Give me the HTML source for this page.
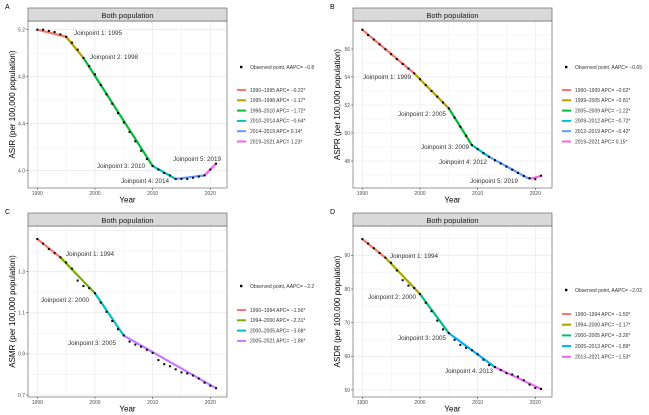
<!DOCTYPE html>
<html><head><meta charset="utf-8"><style>
html,body{margin:0;padding:0;background:#fff;}
svg{display:block;font-family:"Liberation Sans",sans-serif;}
</style></head><body>
<svg id="fig" width="649" height="415" viewBox="0 0 649 415"></svg>
<script>
// ---- Data ----
const years = [1990,1991,1992,1993,1994,1995,1996,1997,1998,1999,2000,2001,2002,2003,2004,2005,2006,2007,2008,2009,2010,2011,2012,2013,2014,2015,2016,2017,2018,2019,2020,2021];
const asirObs = [5.2,5.2,5.19,5.18,5.16,5.14,5.09,5.03,4.96,4.89,4.82,4.73,4.65,4.57,4.49,4.41,4.33,4.25,4.17,4.10,4.04,4.01,3.98,3.96,3.93,3.93,3.93,3.94,3.95,3.96,4.01,4.06];
const asirJp = [1990,1995,1998,2010,2014,2019,2021];
const asirFit = [5.2,5.14,4.96,4.04,3.93,3.96,4.06];
const asirLegend = ["1990\u20131995 APC= \u22120.22*","1995\u20131998 APC= \u22121.17*","1998\u20132010 APC= \u22121.72*","2010\u20132014 APC= \u22120.64*","2014\u20132019 APC= 0.14*","2019\u20132021 APC= 1.23*"];
const asprObs = [57.38,57.0,56.68,56.33,55.98,55.63,55.28,54.93,54.6,54.26,53.84,53.42,53.0,52.6,52.18,51.76,51.1,50.45,49.8,49.14,48.85,48.56,48.3,48.05,47.82,47.6,47.38,47.15,46.93,46.78,46.7,46.95];
const asprJp = [1990,1999,2005,2009,2012,2019,2021];
const asprFit = [57.38,54.26,51.76,49.14,48.3,46.71,46.93];
const asprLegend = ["1990\u20131999 APC= \u22120.62*","1999\u20132005 APC= \u22120.81*","2005\u20132009 APC= \u22121.22*","2009\u20132012 APC= \u22120.72*","2012\u20132019 APC= \u22120.42*","2019\u20132021 APC= 0.15*"];
const asmrObs = [1.459,1.437,1.41,1.39,1.37,1.345,1.315,1.257,1.23,1.22,1.195,1.15,1.105,1.06,1.02,0.99,0.96,0.945,0.935,0.92,0.905,0.87,0.85,0.84,0.825,0.81,0.805,0.795,0.78,0.76,0.745,0.733];
const asmrJp = [1990,1994,2000,2005,2021];
const asmrFit = [1.459,1.37,1.195,0.989,0.733];
const asmrLegend = ["1990\u20131994 APC= \u22121.56*","1994\u20132000 APC= \u22122.31*","2000\u20132005 APC= \u22123.68*","2005\u20132021 APC= \u22121.86*"];
const asdrObs = [94.8,93.5,92.1,90.7,89.3,87.8,85.5,82.6,81.0,80.3,78.5,75.9,73.4,70.6,68.0,66.9,64.9,63.4,62.5,61.8,60.6,59.0,57.4,56.8,55.9,55.0,54.6,54.0,52.9,51.6,50.6,50.3];
const asdrJp = [1990,1994,2000,2005,2013,2021];
const asdrFit = [94.8,89.3,78.5,66.9,56.8,50.3];
const asdrLegend = ["1990\u20131994 APC= \u22121.50*","1994\u20132000 APC= \u22122.17*","2000\u20132005 APC= \u22123.26*","2005\u20132013 APC= \u22121.89*","2013\u20132021 APC= \u22121.53*"];
const xTicks = [1990,2000,2010,2020];
const asirTicks = [4.0,4.4,4.8,5.2];
const asprTicks = [48,50,52,54,56];
const asmrTicks = [0.7,0.9,1.1,1.3];
const asdrTicks = [50,60,70,80,90];

const NS="http://www.w3.org/2000/svg";
const svg=document.getElementById('fig');
function mk(tag,attrs,parent,name,inter){const e=document.createElementNS(NS,tag);for(const k in attrs)e.setAttribute(k,attrs[k]);


(parent||svg).appendChild(e);return e;}

function panel(cfg){
  const g=mk('g',{},svg,'panel-'+cfg.letter.toLowerCase(),false);
  const {ox,oy}=cfg;
  const L=ox+28,R=ox+227,T=oy+21,B=oy+cfg.bottom;
  const xs=y=>ox+37.3+(y-1990)*(173/30);
  const ys=v=>oy+cfg.y0px+(v-cfg.y0)*(cfg.y1px-cfg.y0px)/(cfg.y1-cfg.y0);
  const t=mk('text',{x:ox+5,y:oy+9,'font-size':7,fill:'#000'},g,'panel-letter',false);t.textContent=cfg.letter;
  mk('rect',{x:L,y:T,width:R-L,height:B-T,fill:'#fff'},g,'plot-background',false);
  for(let yr=1985;yr<=2025;yr+=5){const x=xs(yr);if(x<=L||x>=R)continue;
    mk('line',{x1:x,x2:x,y1:T,y2:B,stroke:'#ebebeb','stroke-width':yr%10==0?0.8:0.4},g,'x-grid-line',false);}
  const step=cfg.ticks[1]-cfg.ticks[0];
  const n0=cfg.ticks[0];
  for(let k=-4;k<=cfg.ticks.length*2+4;k++){const v=n0+k*step/2;const y=ys(v);if(y<=T||y>=B)continue;
    mk('line',{x1:L,x2:R,y1:y,y2:y,stroke:'#ebebeb','stroke-width':k%2==0?0.8:0.4},g,'y-grid-line',false);}
  mk('rect',{x:L,y:T,width:R-L,height:B-T,fill:'none',stroke:'#555','stroke-width':0.6},g,'plot-border',false);
  mk('rect',{x:L,y:oy+8,width:R-L,height:13,fill:'#d9d9d9',stroke:'#555','stroke-width':0.6},g,'facet-strip',false);
  const st=mk('text',{x:(L+R)/2,y:oy+18,'font-size':7.5,'text-anchor':'middle',fill:'#1a1a1a'},g,'facet-title',false);st.textContent='Both population';
  xTicks.forEach(yr=>{const x=xs(yr);mk('line',{x1:x,x2:x,y1:B,y2:B+2,stroke:'#333','stroke-width':0.5},g,'x-tick',false);
    const tt=mk('text',{x:x,y:B+7,'font-size':5,'text-anchor':'middle',fill:'#4d4d4d'},g,'x-tick-label',false);tt.textContent=yr;});
  cfg.ticks.forEach(v=>{const y=ys(v);mk('line',{x1:L-2,x2:L,y1:y,y2:y,stroke:'#333','stroke-width':0.5},g,'y-tick',false);
    const tt=mk('text',{x:L-3,y:y+1.8,'font-size':5,'text-anchor':'end',fill:'#4d4d4d'},g,'y-tick-label',false);tt.textContent=cfg.fmt(v);});
  const xt=mk('text',{x:(L+R)/2,y:B+14.5,'font-size':8,'text-anchor':'middle',fill:'#000'},g,'x-axis-title',false);xt.textContent='Year';
  const yt=mk('text',{x:0,y:0,'font-size':8,'text-anchor':'middle',fill:'#000',transform:`translate(${ox+15},${(T+B)/2}) rotate(-90)`},g,'y-axis-title',false);yt.textContent=cfg.ytitle+' (per 100,000 population)';
  for(let i=0;i<cfg.jp.length-1;i++){
    mk('line',{x1:xs(cfg.jp[i]),y1:ys(cfg.fit[i]),x2:xs(cfg.jp[i+1]),y2:ys(cfg.fit[i+1]),stroke:cfg.colors[i],'stroke-width':2.2,'stroke-linecap':'butt'},g,'fit-segment-'+(i+1),false);
  }
  years.forEach((yr,i)=>{mk('rect',{x:xs(yr)-1,y:ys(cfg.obs[i])-1,width:2,height:2,fill:'#000'},g,'observed-point',false);});
  cfg.labels.forEach(lb=>{const tx=mk('text',{x:ox+lb[1],y:oy+lb[2],'font-size':6.3,fill:'#333'},g,'joinpoint-label',false);tx.textContent=lb[0];});
  const lx=ox+238;
  mk('rect',{x:lx+2,y:oy+cfg.legObs-1.2,width:2.4,height:2.4,fill:'#000'},g,'legend-observed-key',false);
  const lo=mk('text',{x:lx+12,y:oy+cfg.legObs+1.8,'font-size':5,fill:'#333'},g,'legend-observed-label',false);lo.textContent='Observed point, AAPC= '+cfg.aapc;
  cfg.legend.forEach((s,i)=>{const y=oy+cfg.legY0+i*cfg.legDy;
    mk('line',{x1:lx-1,x2:lx+8,y1:y,y2:y,stroke:cfg.colors[i],'stroke-width':2},g,'legend-entry-key',false);
    const tx=mk('text',{x:lx+12,y:y+1.8,'font-size':5,fill:'#333'},g,'legend-entry',false);tx.textContent=s;});
}
const pal6=['#F8766D','#B79F00','#00BA38','#00BFC4','#619CFF','#F564E3'];
panel({letter:'A',ox:0,oy:0,bottom:188,y0:5.2,y0px:29.7,y1:4.0,y1px:170.7,ticks:asirTicks,fmt:v=>v.toFixed(1),ytitle:'ASIR',
  obs:asirObs,jp:asirJp,fit:asirFit,colors:pal6,legend:asirLegend,aapc:'\u22120.8',legObs:67,legY0:90,legDy:10.3,
  labels:[['Joinpoint 1: 1995',74,35],['Joinpoint 2: 1998',90,59],['Joinpoint 3: 2010',97,168],['Joinpoint 4: 2014',121,183],['Joinpoint 5: 2019',173,161]]});
panel({letter:'B',ox:325,oy:0,bottom:188,y0:56,y0px:49,y1:48,y1px:161,ticks:asprTicks,fmt:v=>v,ytitle:'ASPR',
  obs:asprObs,jp:asprJp,fit:asprFit,colors:pal6,legend:asprLegend,aapc:'\u22120.65',legObs:67,legY0:90,legDy:10.3,
  labels:[['Joinpoint 1: 1999',38,79],['Joinpoint 2: 2005',73,116],['Joinpoint 3: 2009',96,149],['Joinpoint 4: 2012',114,164],['Joinpoint 5: 2019',145,183]]});
panel({letter:'C',ox:0,oy:205,bottom:192,y0:1.3,y0px:66.7,y1:0.7,y1px:190,ticks:asmrTicks,fmt:v=>v.toFixed(1),ytitle:'ASMR',
  obs:asmrObs,jp:asmrJp,fit:asmrFit,colors:['#F8766D','#7CAE00','#00BFC4','#C77CFF'],legend:asmrLegend,aapc:'\u22122.2',legObs:81,legY0:105,legDy:10.3,
  labels:[['Joinpoint 1: 1994',66,51],['Joinpoint 2: 2000',41,97],['Joinpoint 3: 2005',68,140]]});
panel({letter:'D',ox:325,oy:205,bottom:192,y0:90,y0px:50.3,y1:50,y1px:185,ticks:asdrTicks,fmt:v=>v,ytitle:'ASDR',
  obs:asdrObs,jp:asdrJp,fit:asdrFit,colors:['#F8766D','#A3A500','#00BF7D','#00B0F6','#E76BF3'],legend:asdrLegend,aapc:'\u22122.02',legObs:85,legY0:109,legDy:10.7,
  labels:[['Joinpoint 1: 1994',65,53],['Joinpoint 2: 2000',43,94],['Joinpoint 3: 2005',73,135],['Joinpoint 4: 2013',120,168]]});
</script>
</body></html>
